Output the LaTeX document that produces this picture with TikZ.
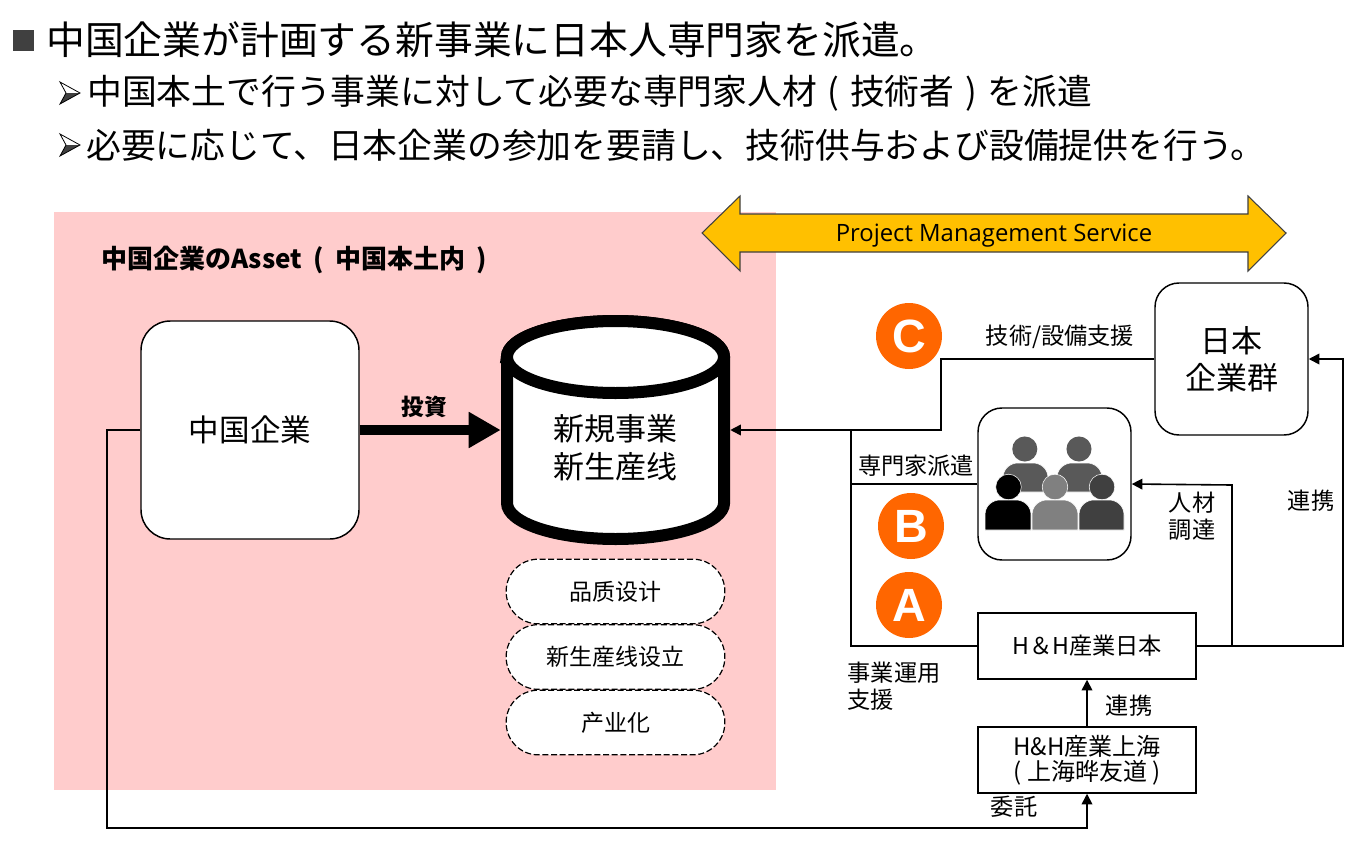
\documentclass[tikz,border=0pt]{standalone}
\usepackage{fontspec}
\setmainfont{Noto Sans CJK JP}
\newfontfamily\latinfont{Open Sans}
\newfontfamily\letterfont{Liberation Sans}
\usetikzlibrary{arrows.meta}
\definecolor{pinkbg}{HTML}{FFCCCC}
\definecolor{amber}{HTML}{FFC000}
\definecolor{badgeorange}{HTML}{FF6600}
\definecolor{bulletgray}{HTML}{404040}
\newcommand{\txt}[2]{\fontsize{#1}{#2}\selectfont}
\tikzset{
  x=0.75pt,y=-0.75pt,
  conn/.style={line width=1.2pt,black},
  connarrow/.style={conn,-{Triangle[length=8pt,width=8pt]}},
  roundbox/.style={draw=black,line width=1.1pt,fill=white,rounded corners=20pt,inner sep=0pt,align=center},
  squarebox/.style={draw=black,line width=1.1pt,fill=white,inner sep=0pt,align=center,minimum width=163.5pt,minimum height=49.5pt},
  stadium/.style={draw=black,line width=0.9pt,dash pattern=on 4.5pt off 2pt,fill=white,rounded corners=24pt,inner sep=0pt,minimum width=164pt,minimum height=48.5pt,font=\txt{17.25}{20}},
  lab/.style={inner sep=0pt,align=center,font=\txt{17.4}{20.25}},
  badge/.style={circle,fill=badgeorange,text=white,inner sep=0pt,minimum size=49.5pt,font=\letterfont\bfseries\txt{35}{35}},
  head/.style={inner sep=0pt,anchor=west},
  person/.style={draw=white,line width=0.4pt,fill=#1},
}
\newcommand{\chevron}[1]{%
  \fill[white] (60,#1-11) -- (80,#1) -- (66,#1) -- cycle;
  \fill[bulletgray] (60,#1+11) -- (80,#1) -- (66,#1) -- cycle;
  \draw[black,line width=0.6pt,line join=miter] (60,#1-11) -- (80,#1) -- (60,#1+11) -- (66,#1) -- cycle;
}
\newcommand{\personbody}[3]{%
  \path[person=#3] (#1,530) -- (#1,515) .. controls (#1,505) and (#1+8,500) .. (#1+15,500) -- (#2-15,500) .. controls (#2-8,500) and (#2,505) .. (#2,515) -- (#2,530) -- cycle;
}
\begin{document}
\begin{tikzpicture}
\useasboundingbox (0,0) rectangle (1367,857);
\fill[white] (0,0) rectangle (1367,857);
% headings
\fill[bulletgray] (13,30) rectangle (34,51);
\node[head,font=\txt{29.1}{32}] (title) at (46,40) {中国企業が計画する新事業に日本人専門家を派遣。};
\chevron{93}
\node[head,font=\txt{26.1}{28}] (line1) at (87,93) {中国本土で行う事業に対して必要な専門家人材\hspace{8pt}(\hspace{8pt}技術者\hspace{8pt})\hspace{8pt}を派遣};
\chevron{145}
\node[head,font=\txt{26.1}{28}] (line2) at (86,145) {必要に応じて、日本企業の参加を要請し、技術供与および設備提供を行う。};
% pink area
\fill[pinkbg] (54,212) rectangle (776,790);
\node[head,font=\bfseries\txt{19.5}{22}] (assettitle) at (101,260) {中国企業のAsset\hspace{8.5pt}(\hspace{8.5pt}中国本土内\hspace{8.5pt})};
% PMS arrow
\draw[fill=amber,draw=black!75,line width=0.8pt,line join=miter] (702,233) -- (740,196) -- (740,214) -- (1248,214) -- (1248,196) -- (1286,233) -- (1248,271) -- (1248,252) -- (740,252) -- (740,271) -- cycle;
\node[inner sep=0pt,font=\latinfont\txt{17.9}{20}] (pms) at (994,236) {Project Management Service};
% Chinese company
\node[roundbox,minimum width=163.5pt,minimum height=163.5pt,rounded corners=22pt,font=\txt{22.9}{26}] (cn) at (250,430) {中国企業};
% cylinder
\node[inner sep=0pt,minimum width=171.75pt,minimum height=172.5pt] (cyl) at (615.5,430) {};
\draw[fill=white,line width=9pt] (507,357) -- (507,503) arc[start angle=180,end angle=360,x radius=81.4pt,y radius=27pt] -- (724,357) arc[start angle=0,end angle=180,x radius=81.4pt,y radius=27pt] -- cycle;
\draw[fill=white,line width=9pt] (615.5,357) ellipse[x radius=81.4pt,y radius=27pt];
\node[lab,font=\txt{23.25}{28.5}] (cyltext) at (615.5,448) {新規事業\\新生産线};
% invest arrow
\draw[line width=7.5pt,-{Triangle[length=24pt,width=25.5pt]}] (cn.east) -- (cyl.west);
\node[lab,font=\bfseries\txt{17}{18}] (invest) at (424,407) {投資};
% dashed stadiums
\node[stadium] (s1) at (615.5,591.5) {品质设计};
\node[stadium] (s2) at (615.5,657) {新生産线设立};
\node[stadium] (s3) at (615.5,722.5) {产业化};
% right side boxes
\node[roundbox,minimum width=114.75pt,minimum height=114pt,rounded corners=18pt,font=\txt{23.25}{27.75}] (jp) at (1231.5,359) {日本\\企業群};
\node[roundbox,minimum width=114.75pt,minimum height=114pt,rounded corners=18pt] (exp) at (1054.5,484) {};
\node[squarebox,font=\txt{17.4}{20}] (hhj) at (1087,646) {H＆H産業日本};
\node[squarebox,font=\txt{18}{18.75}] (hhs) at (1087,760) {H\&H産業上海\\(\hspace{4pt}上海晔友道\hspace{4pt})};
% people
\fill[black!65] (1024.8,449) circle[radius=9.4pt];
\fill[black!65] (1079,449) circle[radius=9.4pt];
\path[person=black!65] (1003,492) -- (1003,478) .. controls (1003,468) and (1011,463) .. (1018,463) -- (1033,463) .. controls (1040,463) and (1048,468) .. (1048,478) -- (1048,492) -- cycle;
\path[person=black!65] (1057,492) -- (1057,478) .. controls (1057,468) and (1065,463) .. (1072,463) -- (1087,463) .. controls (1094,463) and (1102,468) .. (1102,478) -- (1102,492) -- cycle;
\path[person=black] (1008.5,487) circle[radius=9.6pt];
\path[person=black!50] (1055,487) circle[radius=9.6pt];
\path[person=bulletgray] (1102,487) circle[radius=9.6pt];
\personbody{985}{1031}{black}
\personbody{1032}{1078}{black!50}
\personbody{1079}{1124}{bulletgray}
% junction helpers
\coordinate (j1) at (851,430);
\coordinate (j2) at (941,430);
\coordinate (r1) at (1343,359);
\coordinate (r2) at (1232,485);
\coordinate (l1) at (107,828);
% connectors
\draw[connarrow] (jp.west) -| (j2) -- (cyl.east);
\draw[conn] (exp.west) -| (j1);
\draw[conn] (hhj.west) -| (j1);
\draw[connarrow] (hhj.east) -| (r1) -- (jp.east);
\draw[connarrow] (hhj.east) -| (r2) -- (exp.east);
\draw[connarrow] (hhs.north) -- (hhj.south);
\draw[connarrow] (cn.west) -| (l1) -| (hhs.south);
% badges
\node[badge] (bc) at (909,336) {C};
\node[badge] (bb) at (911,526) {B};
\node[badge] (ba) at (909,605) {A};
% labels
\node[lab] (l_tech) at (1060,337) {技術/設備支援};
\node[lab] (l_exp) at (916,466) {専門家派遣};
\node[lab] (l_hr) at (1192,516) {人材\\調達};
\node[lab] (l_link1) at (1311,501) {連携};
\node[lab,align=left] (l_ops) at (894,686) {事業運用\\支援};
\node[lab] (l_link2) at (1129,706) {連携};
\node[lab] (l_ent) at (1014,807) {委託};
\end{tikzpicture}
\end{document}
